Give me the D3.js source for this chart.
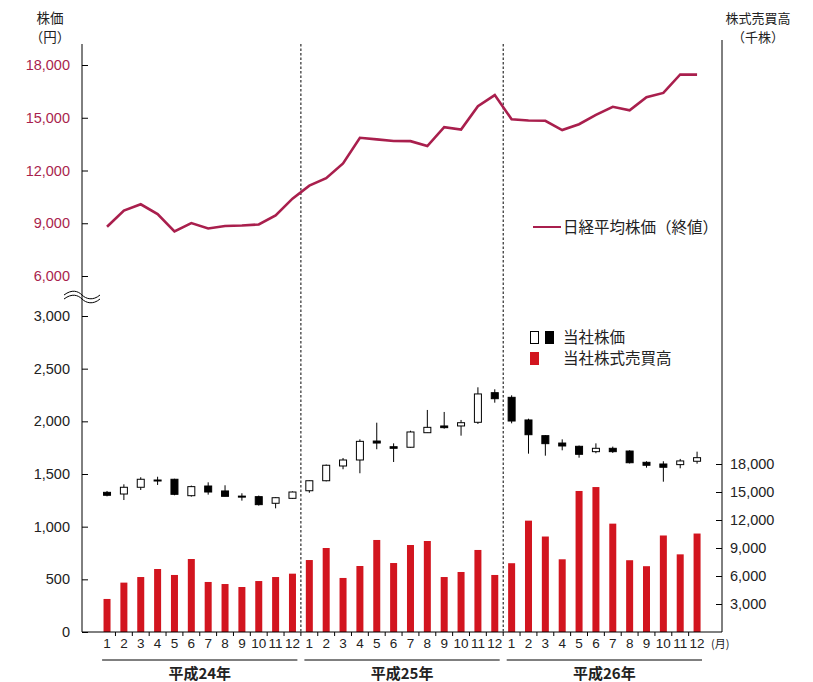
<!DOCTYPE html>
<html>
<head>
<meta charset="utf-8">
<script src="https://cdn.jsdelivr.net/npm/d3@7"></script>
<style>
  body { margin: 0; background: #fff; }
  svg { display: block; font-family: "Liberation Sans", Arial, "Noto Sans CJK JP", sans-serif; }
  .jp { font-family: "Noto Sans CJK JP", sans-serif; }
</style>
</head>
<body>
<script>
var w = 813;
var h = 682;

// months of 平成24〜26年
var years = ["平成24年", "平成25年", "平成26年"];
var monthLabels = d3.range(36).map(function(i){ return String(i % 12 + 1); });

// 日経平均株価 (終値, 円)
var nikkei = [8800, 9720, 10080, 9520, 8540, 9010, 8700, 8840, 8870, 8930, 9450, 10400,
              11140, 11560, 12400, 13860, 13770, 13680, 13670, 13390, 14460, 14330, 15660, 16290,
              14910, 14840, 14830, 14300, 14630, 15160, 15620, 15420, 16170, 16410, 17460, 17450];

// 当社株価 (円)
var open  = [1326, 1310, 1374, 1443, 1450, 1294, 1386, 1339, 1290, 1285, 1222, 1269,
             1341, 1436, 1576, 1633, 1813, 1759, 1754, 1892, 1956, 1956, 1991, 2272,
             2228, 2013, 1864, 1794, 1763, 1712, 1744, 1718, 1611, 1595, 1589, 1621];
var high  = [1339, 1402, 1469, 1474, 1455, 1390, 1421, 1393, 1317, 1295, 1280, 1335,
             1440, 1590, 1652, 1829, 1987, 1791, 1911, 2108, 2089, 2013, 2323, 2304,
             2247, 2025, 1870, 1829, 1770, 1791, 1760, 1725, 1621, 1621, 1643, 1712];
var low   = [1288, 1253, 1348, 1396, 1298, 1285, 1304, 1288, 1247, 1200, 1174, 1265,
             1322, 1430, 1545, 1507, 1735, 1614, 1750, 1890, 1930, 1864, 1975, 2177,
             1981, 1693, 1674, 1725, 1655, 1697, 1700, 1600, 1560, 1427, 1554, 1598];
var close = [1298, 1374, 1450, 1440, 1307, 1380, 1329, 1288, 1282, 1209, 1275, 1329,
             1436, 1583, 1633, 1810, 1794, 1744, 1899, 1943, 1940, 1987, 2260, 2215,
             2003, 1873, 1788, 1766, 1687, 1744, 1712, 1607, 1583, 1564, 1624, 1655];

// 当社株式売買高 (千株)
var volume = [3540, 5290, 5890, 6750, 6110, 7820, 5360, 5140, 4820, 5460, 5890, 6250,
              7710, 9000, 5790, 7070, 9860, 7390, 9320, 9750, 5890, 6430, 8790, 6110,
              7370, 11930, 10230, 7790, 15110, 15530, 11610, 7690, 7050, 10340, 8320, 10550];

var upperTicks = [6000, 9000, 12000, 15000, 18000];
var lowerTicks = [0, 500, 1000, 1500, 2000, 2500, 3000];
var volTicks = [3000, 6000, 9000, 12000, 15000, 18000];

var crimson = "#a91f4d";
var red = "#d2151f";

var axLeft = 82, axRight = 722, axTop = 44, base = 632;

var svg = d3.select("body").append("svg")
  .attr("width", w)
  .attr("height", h);

var x = d3.scaleBand()
  .domain(d3.range(36))
  .range([98.6, 705.5]);

var yHigh = d3.scaleLinear().domain([6000, 18000]).range([276, 65]);
var yLow = d3.scaleLinear().domain([0, 3000]).range([base, 316]);
var yVol = d3.scaleLinear().domain([0, 18000]).range([base, 464]);

function cx(i) { return x(i) + x.bandwidth() / 2; }

// year separators
svg.selectAll(".sep")
  .data([12, 24])
  .enter().append("line")
  .attr("x1", function(d){ return x(d); })
  .attr("x2", function(d){ return x(d); })
  .attr("y1", axTop)
  .attr("y2", base)
  .attr("stroke", "#000")
  .attr("stroke-width", 1)
  .attr("stroke-dasharray", "2.5,2");

// volume bars
svg.selectAll(".vol")
  .data(volume)
  .enter().append("rect")
  .attr("x", function(d, i){ return cx(i) - 3.5; })
  .attr("width", 7)
  .attr("y", function(d){ return yVol(d); })
  .attr("height", function(d){ return yVol(0) - yVol(d); })
  .attr("fill", red);

// candlesticks
var candles = svg.selectAll(".candle")
  .data(d3.range(36))
  .enter().append("g");

candles.append("line")
  .attr("x1", function(i){ return cx(i); })
  .attr("x2", function(i){ return cx(i); })
  .attr("y1", function(i){ return yLow(high[i]); })
  .attr("y2", function(i){ return yLow(low[i]); })
  .attr("stroke", "#000")
  .attr("stroke-width", 1);

candles.append("rect")
  .attr("x", function(i){ return cx(i) - 3.5; })
  .attr("width", 7)
  .attr("y", function(i){ return yLow(Math.max(open[i], close[i])); })
  .attr("height", function(i){ return Math.max(1, Math.abs(yLow(open[i]) - yLow(close[i]))); })
  .attr("fill", function(i){ return close[i] >= open[i] ? "#fff" : "#000"; })
  .attr("stroke", "#000")
  .attr("stroke-width", 1);

// nikkei line
var line = d3.line()
  .x(function(d, i){ return cx(i); })
  .y(function(d){ return yHigh(d); });

svg.append("path")
  .datum(nikkei)
  .attr("d", line)
  .attr("fill", "none")
  .attr("stroke", crimson)
  .attr("stroke-width", 2.6)
  .attr("stroke-linejoin", "miter");

// left axis
svg.append("line")
  .attr("x1", axLeft).attr("x2", axLeft)
  .attr("y1", axTop).attr("y2", base)
  .attr("stroke", "#000");

var gUp = svg.append("g")
  .attr("transform", "translate(" + axLeft + ",0)")
  .call(d3.axisLeft(yHigh).tickValues(upperTicks).tickSizeInner(-6).tickSizeOuter(0)
    .tickPadding(12).tickFormat(d3.format(",")));
var gLo = svg.append("g")
  .attr("transform", "translate(" + axLeft + ",0)")
  .call(d3.axisLeft(yLow).tickValues(lowerTicks).tickSizeInner(-6).tickSizeOuter(0)
    .tickPadding(12).tickFormat(d3.format(",")));
[gUp, gLo].forEach(function(g){
  g.select(".domain").remove();
  g.selectAll("text").style("font-size", "14.5px").style("font-family", null);
});
gUp.selectAll("text").attr("fill", crimson);
gLo.selectAll("text").attr("fill", "#222");

// break mark
[0, 4].forEach(function(off){
  svg.append("path")
    .attr("d", "M64," + (295 + off) + " C72," + (289 + off) + " 78," + (291 + off) + " 82," + (295 + off) +
               " S93," + (301 + off) + " 100," + (295 + off))
    .attr("fill", "none")
    .attr("stroke", "#000")
    .attr("stroke-width", 1);
});

// right axis
svg.append("line")
  .attr("x1", axRight).attr("x2", axRight)
  .attr("y1", axTop - 4).attr("y2", base)
  .attr("stroke", "#000");

var gR = svg.append("g")
  .attr("transform", "translate(" + axRight + ",0)")
  .call(d3.axisRight(yVol).tickValues(volTicks).tickSizeInner(-6).tickSizeOuter(0)
    .tickPadding(8).tickFormat(d3.format(",")));
gR.select(".domain").remove();
gR.selectAll("text").style("font-size", "14.5px").style("font-family", null).attr("fill", "#222");

// bottom axis
svg.append("line")
  .attr("x1", axLeft).attr("x2", axRight)
  .attr("y1", base).attr("y2", base)
  .attr("stroke", "#000");

svg.selectAll(".mtick")
  .data(d3.range(1, 36))
  .enter().append("line")
  .attr("x1", function(d){ return x(d); })
  .attr("x2", function(d){ return x(d); })
  .attr("y1", base)
  .attr("y2", base + 4)
  .attr("stroke", "#000");

svg.selectAll(".mlab")
  .data(monthLabels)
  .enter().append("text")
  .attr("x", function(d, i){ return cx(i); })
  .attr("y", 648)
  .attr("text-anchor", "middle")
  .style("font-size", "13.5px")
  .attr("fill", "#222")
  .text(function(d){ return d; });

svg.append("text")
  .attr("x", 711)
  .attr("y", 648)
  .style("font-size", "11px")
  .attr("class", "jp")
  .attr("fill", "#222")
  .text("(月)");

// year groups
years.forEach(function(yr, k){
  var x0 = x(k * 12) + 3.5;
  var x1 = x(k * 12 + 11) + x.bandwidth() - 3.5;
  svg.append("line")
    .attr("x1", x0).attr("x2", x1)
    .attr("y1", 660).attr("y2", 660)
    .attr("stroke", "#000");
  svg.append("text")
    .attr("class", "jp")
    .attr("x", (x0 + x1) / 2)
    .attr("y", 679)
    .attr("text-anchor", "middle")
    .style("font-size", "15px")
    .style("font-weight", "bold")
    .attr("fill", "#222")
    .text(yr);
});

// axis titles
svg.append("text").attr("class", "jp").attr("x", 50).attr("y", 23)
  .attr("text-anchor", "middle").style("font-size", "13.5px").attr("fill", "#222").text("株価");
svg.append("text").attr("class", "jp").attr("x", 50).attr("y", 42)
  .attr("text-anchor", "middle").style("font-size", "13.5px").attr("fill", "#222").text("（円）");
svg.append("text").attr("class", "jp").attr("x", 758).attr("y", 23)
  .attr("text-anchor", "middle").style("font-size", "13px").attr("fill", "#222").text("株式売買高");
svg.append("text").attr("class", "jp").attr("x", 758).attr("y", 42)
  .attr("text-anchor", "middle").style("font-size", "13px").attr("fill", "#222").text("（千株）");

// legends
svg.append("line")
  .attr("x1", 533).attr("x2", 561)
  .attr("y1", 227).attr("y2", 227)
  .attr("stroke", crimson).attr("stroke-width", 2);
svg.append("text").attr("class", "jp").attr("x", 563).attr("y", 232.5)
  .style("font-size", "15.5px").attr("fill", "#222").text("日経平均株価（終値）");

svg.append("rect").attr("x", 530.5).attr("y", 331.5).attr("width", 8).attr("height", 12)
  .attr("fill", "#fff").attr("stroke", "#000");
svg.append("rect").attr("x", 545).attr("y", 331).attr("width", 9).attr("height", 13)
  .attr("fill", "#000");
svg.append("text").attr("class", "jp").attr("x", 563).attr("y", 343)
  .style("font-size", "15.5px").attr("fill", "#222").text("当社株価");

svg.append("rect").attr("x", 530).attr("y", 352).attr("width", 9).attr("height", 13)
  .attr("fill", red);
svg.append("text").attr("class", "jp").attr("x", 563).attr("y", 364)
  .style("font-size", "15.5px").attr("fill", "#222").text("当社株式売買高");
</script>
</body>
</html>
